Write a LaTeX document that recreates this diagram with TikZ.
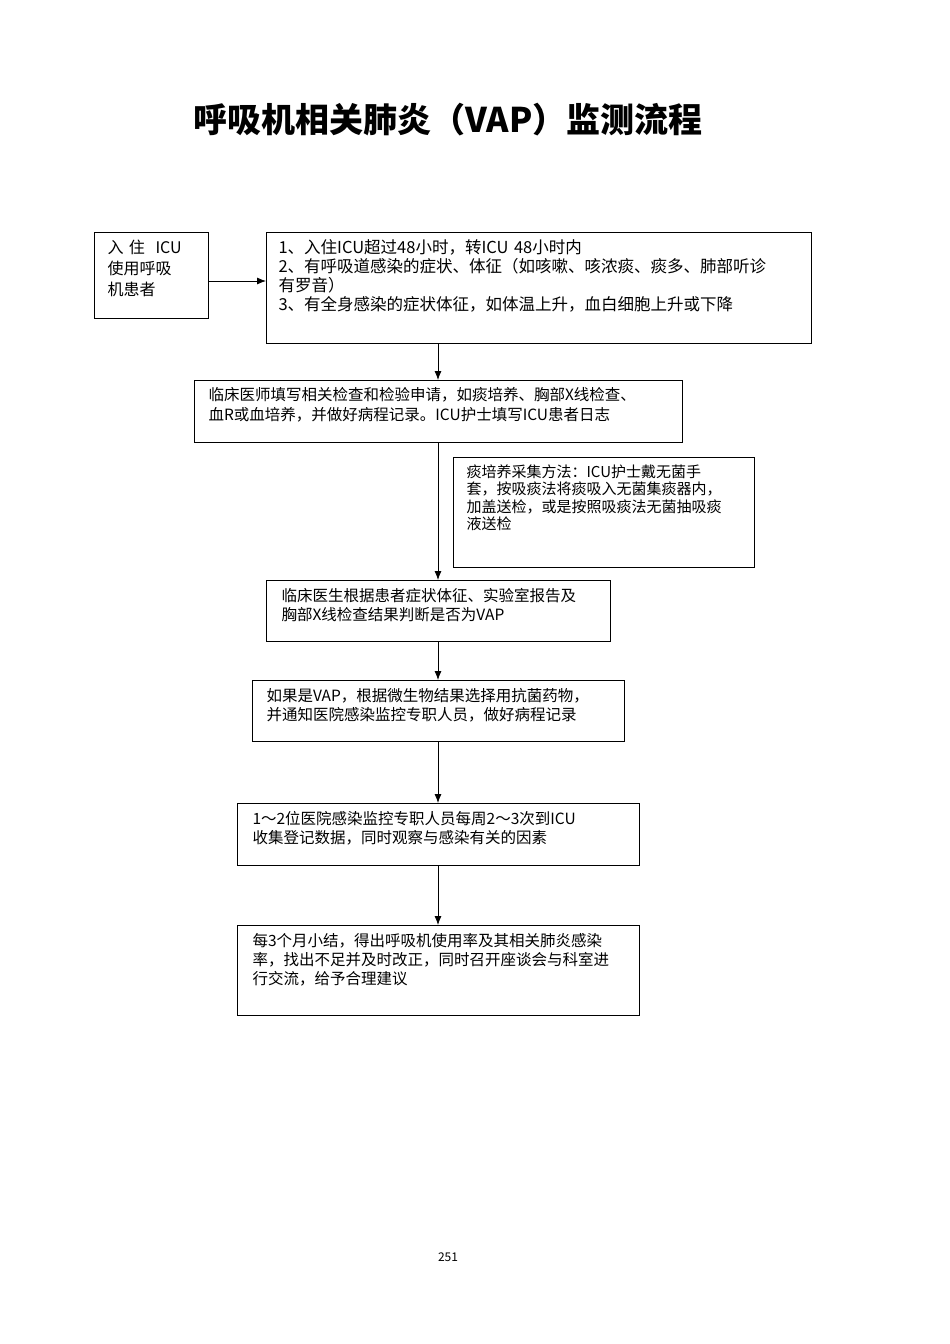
\documentclass[tikz,border=0pt]{standalone}
\usepackage{fontspec}
\setmainfont{Noto Sans CJK SC}
\usetikzlibrary{arrows.meta}
\begin{document}
\begin{tikzpicture}[x=1pt,y=-1pt,
 ar/.style={-{Latex[length=9pt,width=7pt]},thick}]
\useasboundingbox (0,0) rectangle (950,1344);
\node[font=\fontsize{34}{38}\selectfont\bfseries] (title) at (448,120) {呼吸机相关肺炎（VAP）监测流程};
\draw[thick] (94,232) rectangle (208,318);
\node[anchor=north west,align=left,text width=100pt,font=\fontsize{16}{21}\selectfont] (b1) at (104,236) {入\ 住\ \ ICU\\使用呼吸\\机患者};
\coordinate (b1e) at (208,281);
\draw[thick] (266,232) rectangle (811,343);
\node[anchor=north west,align=left,text width=540pt,font=\fontsize{16.5}{19}\selectfont] (b2) at (275,236) {1、入住ICU超过48小时，转ICU 48小时内\\2、有呼吸道感染的症状、体征（如咳嗽、咳浓痰、痰多、肺部听诊\\有罗音）\\3、有全身感染的症状体征，如体温上升，血白细胞上升或下降};
\coordinate (b2w) at (266,281);
\coordinate (b2s) at (438,343);
\draw[thick] (194,380) rectangle (682,442);
\node[anchor=north west,align=left,text width=480pt,font=\fontsize{15.5}{20}\selectfont] (b3) at (205,384) {临床医师填写相关检查和检验申请，如痰培养、胸部X线检查、\\血R或血培养，并做好病程记录。ICU护士填写ICU患者日志};
\coordinate (b3n) at (438,380); \coordinate (b3s) at (438,442);
\draw[thick] (453,457) rectangle (754,567);
\node[anchor=north west,align=left,text width=300pt,font=\fontsize{15}{17.5}\selectfont] (b4) at (463,461) {痰培养采集方法：ICU护士戴无菌手\\套，按吸痰法将痰吸入无菌集痰器内，\\加盖送检，或是按照吸痰法无菌抽吸痰\\液送检};
\draw[thick] (266,580) rectangle (610,641);
\node[anchor=north west,align=left,text width=340pt,font=\fontsize{15.5}{19}\selectfont] (b5) at (278,585) {临床医生根据患者症状体征、实验室报告及\\胸部X线检查结果判断是否为VAP};
\coordinate (b5n) at (438,580); \coordinate (b5s) at (438,641);
\draw[thick] (252,680) rectangle (624,741);
\node[anchor=north west,align=left,text width=370pt,font=\fontsize{15.5}{19}\selectfont] (b6) at (263,685) {如果是VAP，根据微生物结果选择用抗菌药物，\\并通知医院感染监控专职人员，做好病程记录};
\coordinate (b6n) at (438,680); \coordinate (b6s) at (438,741);
\draw[thick] (237,803) rectangle (639,865);
\node[anchor=north west,align=left,text width=400pt,font=\fontsize{15.5}{19}\selectfont] (b7) at (249,808) {1～2位医院感染监控专职人员每周2～3次到ICU\\收集登记数据，同时观察与感染有关的因素};
\coordinate (b7n) at (438,803); \coordinate (b7s) at (438,865);
\draw[thick] (237,925) rectangle (639,1015);
\node[anchor=north west,align=left,text width=400pt,font=\fontsize{15.5}{19}\selectfont] (b8) at (249,930) {每3个月小结，得出呼吸机使用率及其相关肺炎感染\\率，找出不足并及时改正，同时召开座谈会与科室进\\行交流，给予合理建议};
\coordinate (b8n) at (438,925);
\draw[ar] (b1e) -- (b2w);
\draw[ar] (b2s) -- (b3n);
\draw[ar] (b3s) -- (b5n);
\draw[ar] (b5s) -- (b6n);
\draw[ar] (b6s) -- (b7n);
\draw[ar] (b7s) -- (b8n);
\node[font=\fontsize{12}{14}\selectfont] (pg) at (448,1257) {251};
\end{tikzpicture}
\end{document}
